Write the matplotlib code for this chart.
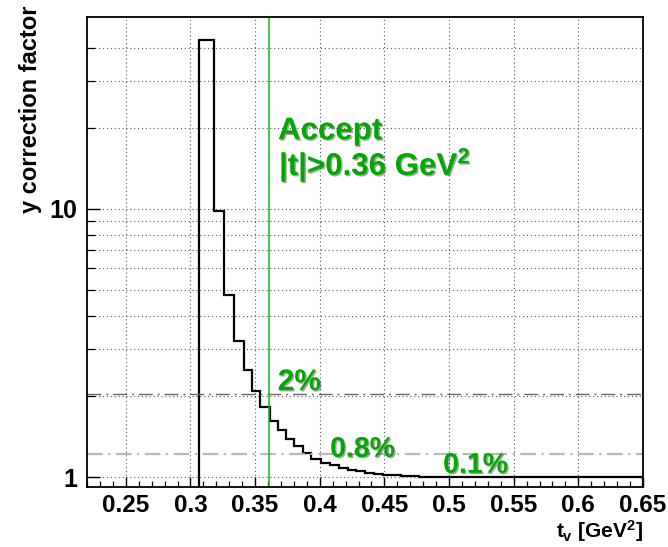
import matplotlib
matplotlib.use("Agg")
import matplotlib.pyplot as plt
import matplotlib.patheffects as pe
from matplotlib.ticker import FixedLocator, NullFormatter, FormatStrFormatter

plt.rcParams["font.family"] = ["Liberation Sans", "DejaVu Sans"]
plt.rcParams["font.weight"] = "bold"
plt.rcParams["mathtext.fontset"] = "custom"
plt.rcParams["mathtext.rm"] = "Liberation Sans:bold"
plt.rcParams["mathtext.it"] = "Liberation Sans:bold"
plt.rcParams["mathtext.bf"] = "Liberation Sans:bold"

# histogram of the correction factor
bin_edges = [0.3069, 0.3184, 0.3261, 0.3338, 0.3415, 0.3479, 0.3541, 0.3613,
             0.3675, 0.3739, 0.3803, 0.3867, 0.3931, 0.4008, 0.4077, 0.4146,
             0.4215, 0.4284, 0.4353, 0.4422, 0.4491, 0.4560, 0.4629, 0.4698,
             0.4767, 0.65]
factor = [42.8, 9.83, 4.78, 3.23, 2.51, 2.10, 1.82, 1.62, 1.50, 1.39, 1.30,
          1.23, 1.17, 1.13, 1.108, 1.085, 1.066, 1.053, 1.039, 1.030, 1.022,
          1.016, 1.011, 1.007, 1.002]

t_cut = 0.361
level_2pct = 2.04
level_08pct = 1.215

x_ticks = [0.25, 0.3, 0.35, 0.4, 0.45, 0.5, 0.55, 0.6, 0.65]
y_major = [1, 10]
y_minor = [2, 3, 4, 5, 6, 7, 8, 9, 20, 30, 40]

green_txt = "#00a800"
green_line = "#10c010"

fig = plt.figure(figsize=(6.68, 5.47), dpi=100)
ax = fig.add_axes([87 / 668, 60 / 547, 556 / 668, 470 / 547])
ax.set_yscale("log")
ax.set_xlim(0.22, 0.65)
ax.set_ylim(0.918, 52)

# grid
ax.xaxis.set_major_locator(FixedLocator(x_ticks))
ax.xaxis.set_minor_locator(FixedLocator([0.22 + 0.01 * i for i in range(44)]))
ax.yaxis.set_major_locator(FixedLocator(y_major))
ax.yaxis.set_minor_locator(FixedLocator(y_minor))
ax.yaxis.set_major_formatter(FormatStrFormatter("%d"))
ax.yaxis.set_minor_formatter(NullFormatter())
ax.xaxis.set_major_formatter(FormatStrFormatter("%g"))
ax.grid(True, which="major", axis="x", ls=(0, (1, 2.5)), color="0.35", lw=0.8)
ax.grid(True, which="both", axis="y", ls=(0, (1, 2.5)), color="0.35", lw=0.8)
ax.set_axisbelow(True)

# reference levels
ax.axhline(level_2pct, color="0.4", lw=1.0, dashes=(10, 3.5, 1.5, 3.5))
ax.axhline(level_08pct, color="0.72", lw=1.6, dashes=(7, 2.5, 1, 2.5))
ax.axvline(t_cut, color=green_line, lw=1.1)

ax.stairs(factor, bin_edges, baseline=0.9, color="black", lw=1.6)

shadow = [pe.SimplePatchShadow(offset=(1, -1), shadow_rgbFace="black", alpha=0.35), pe.Normal()]
ax.text(0.3677, 18.2, "Accept", color=green_txt, fontsize=22.5, fontweight="bold",
        va="baseline", path_effects=shadow)
ax.text(0.3685, 13.4, r"|t|>0.36 GeV$^{2}$", color=green_txt, fontsize=22.5,
        fontweight="bold", va="baseline", path_effects=shadow)
ax.text(0.3675, 2.11, "2%", color=green_txt, fontsize=21.5, fontweight="bold",
        va="baseline", path_effects=shadow)
ax.text(0.408, 1.19, "0.8%", color=green_txt, fontsize=20.5, fontweight="bold",
        va="baseline", path_effects=shadow)
ax.text(0.4954, 1.037, "0.1%", color=green_txt, fontsize=20.5, fontweight="bold",
        va="baseline", path_effects=shadow)

# ROOT-like axis styling
for s in ax.spines.values():
    s.set_linewidth(1.3)
ax.tick_params(axis="x", which="major", direction="in", length=7, width=1.0,
               labelsize=17.5, pad=5, top=False)
ax.tick_params(axis="x", which="minor", direction="in", length=4, width=0.9, top=False)
ax.tick_params(axis="y", which="major", direction="in", length=9, width=1.0,
               labelsize=18, pad=7, right=False)
ax.tick_params(axis="y", which="minor", direction="in", length=5.5, width=0.9, right=False)

ax.set_xlabel(r"$t_v$ [GeV$^{2}$]", fontsize=15, fontweight="bold", loc="right")
ax.xaxis.set_label_coords(1.0, -0.066)
ax.set_ylabel("y correction factor", fontsize=17, fontweight="bold")
ax.yaxis.label.set_rotation_mode("default")
ax.yaxis.label.set_va("top")
ax.yaxis.label.set_ha("center")
ax.yaxis.set_label_coords(-0.1025, 1.0255)

fig.savefig("out.png", dpi=100)
